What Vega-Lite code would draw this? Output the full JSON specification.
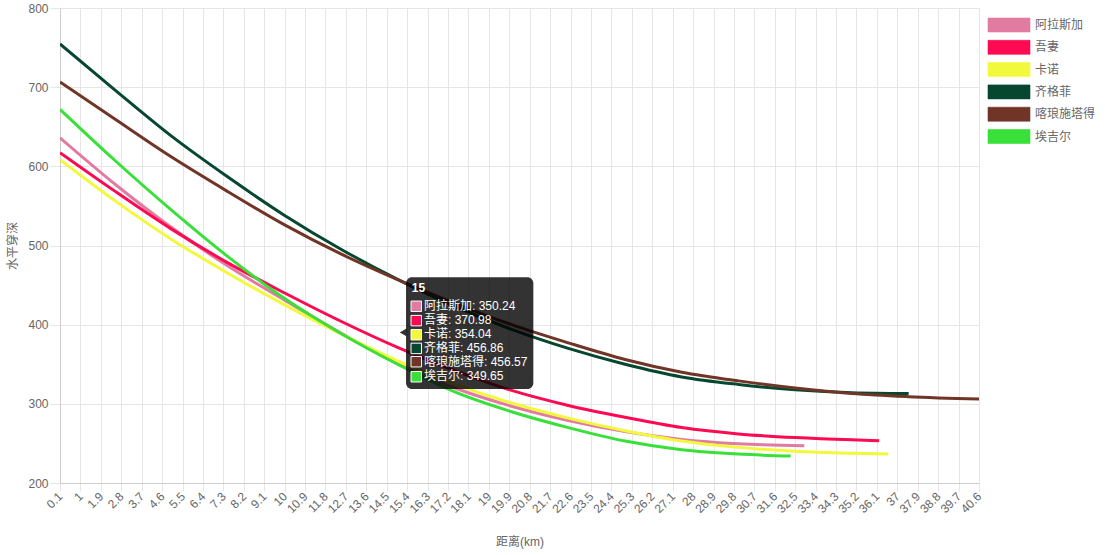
{
  "$schema": "https://vega.github.io/schema/vega-lite/v6.json",
  "width": 919,
  "height": 475,
  "autosize": {"type": "none"},
  "padding": {"left": 60, "top": 8, "right": 126, "bottom": 72},
  "background": "#ffffff",
  "config": {
    "font": "Liberation Sans, Noto Sans CJK SC, sans-serif",
    "view": {"stroke": null}
  },
  "datasets": {
    "pen": [
      {"s": "阿拉斯加", "d": 0.1, "v": 636}, {"s": "阿拉斯加", "d": 2.5, "v": 578}, {"s": "阿拉斯加", "d": 5, "v": 523}, {"s": "阿拉斯加", "d": 7.5, "v": 474}, {"s": "阿拉斯加", "d": 10, "v": 431}, {"s": "阿拉斯加", "d": 12.5, "v": 389}, {"s": "阿拉斯加", "d": 15, "v": 350.24}, {"s": "阿拉斯加", "d": 17.5, "v": 320}, {"s": "阿拉斯加", "d": 20, "v": 297}, {"s": "阿拉斯加", "d": 22.5, "v": 279}, {"s": "阿拉斯加", "d": 25, "v": 265}, {"s": "阿拉斯加", "d": 27.5, "v": 255}, {"s": "阿拉斯加", "d": 30, "v": 249.5}, {"s": "阿拉斯加", "d": 32.9, "v": 247},
      {"s": "吾妻", "d": 0.1, "v": 617.3}, {"s": "吾妻", "d": 2.5, "v": 569}, {"s": "吾妻", "d": 5, "v": 521}, {"s": "吾妻", "d": 7.5, "v": 478}, {"s": "吾妻", "d": 10, "v": 440}, {"s": "吾妻", "d": 12.5, "v": 404}, {"s": "吾妻", "d": 15, "v": 370.98}, {"s": "吾妻", "d": 17.5, "v": 342}, {"s": "吾妻", "d": 20, "v": 317}, {"s": "吾妻", "d": 22.5, "v": 298}, {"s": "吾妻", "d": 25, "v": 283}, {"s": "吾妻", "d": 27.5, "v": 270}, {"s": "吾妻", "d": 30, "v": 262}, {"s": "吾妻", "d": 32.5, "v": 257.4}, {"s": "吾妻", "d": 35, "v": 254.5}, {"s": "吾妻", "d": 36.2, "v": 253.5},
      {"s": "卡诺", "d": 0.1, "v": 608.5}, {"s": "卡诺", "d": 2.5, "v": 557}, {"s": "卡诺", "d": 5, "v": 508}, {"s": "卡诺", "d": 7.5, "v": 465}, {"s": "卡诺", "d": 10, "v": 425}, {"s": "卡诺", "d": 12.5, "v": 388}, {"s": "卡诺", "d": 15, "v": 354.04}, {"s": "卡诺", "d": 17.5, "v": 325}, {"s": "卡诺", "d": 20, "v": 301}, {"s": "卡诺", "d": 22.5, "v": 282}, {"s": "卡诺", "d": 25, "v": 266}, {"s": "卡诺", "d": 27.5, "v": 253}, {"s": "卡诺", "d": 30, "v": 245}, {"s": "卡诺", "d": 32.5, "v": 240}, {"s": "卡诺", "d": 35, "v": 237.5}, {"s": "卡诺", "d": 36.6, "v": 236.5},
      {"s": "齐格菲", "d": 0.1, "v": 754.5}, {"s": "齐格菲", "d": 2.5, "v": 697}, {"s": "齐格菲", "d": 5, "v": 638.5}, {"s": "齐格菲", "d": 7.5, "v": 586.5}, {"s": "齐格菲", "d": 10, "v": 538}, {"s": "齐格菲", "d": 12.5, "v": 495}, {"s": "齐格菲", "d": 15, "v": 456.86}, {"s": "齐格菲", "d": 17.5, "v": 423}, {"s": "齐格菲", "d": 20, "v": 394}, {"s": "齐格菲", "d": 22.5, "v": 370}, {"s": "齐格菲", "d": 25, "v": 350}, {"s": "齐格菲", "d": 27.5, "v": 334}, {"s": "齐格菲", "d": 30, "v": 324.5}, {"s": "齐格菲", "d": 32.5, "v": 317.7}, {"s": "齐格菲", "d": 35, "v": 314}, {"s": "齐格菲", "d": 37.5, "v": 313},
      {"s": "喀琅施塔得", "d": 0.1, "v": 706.5}, {"s": "喀琅施塔得", "d": 2.5, "v": 660}, {"s": "喀琅施塔得", "d": 5, "v": 612}, {"s": "喀琅施塔得", "d": 7.5, "v": 568}, {"s": "喀琅施塔得", "d": 10, "v": 526}, {"s": "喀琅施塔得", "d": 12.5, "v": 489}, {"s": "喀琅施塔得", "d": 15, "v": 456.57}, {"s": "喀琅施塔得", "d": 17.5, "v": 427}, {"s": "喀琅施塔得", "d": 20, "v": 400}, {"s": "喀琅施塔得", "d": 22.5, "v": 377}, {"s": "喀琅施塔得", "d": 25, "v": 356}, {"s": "喀琅施塔得", "d": 27.5, "v": 340}, {"s": "喀琅施塔得", "d": 30, "v": 329}, {"s": "喀琅施塔得", "d": 32.5, "v": 320}, {"s": "喀琅施塔得", "d": 35, "v": 313}, {"s": "喀琅施塔得", "d": 37.5, "v": 309}, {"s": "喀琅施塔得", "d": 40.6, "v": 306},
      {"s": "埃吉尔", "d": 0.1, "v": 672}, {"s": "埃吉尔", "d": 2.5, "v": 608}, {"s": "埃吉尔", "d": 5, "v": 545}, {"s": "埃吉尔", "d": 7.5, "v": 486}, {"s": "埃吉尔", "d": 10, "v": 433}, {"s": "埃吉尔", "d": 12.5, "v": 388.5}, {"s": "埃吉尔", "d": 15, "v": 349.65}, {"s": "埃吉尔", "d": 17.5, "v": 315}, {"s": "埃吉尔", "d": 20, "v": 290}, {"s": "埃吉尔", "d": 22.5, "v": 270}, {"s": "埃吉尔", "d": 25, "v": 253}, {"s": "埃吉尔", "d": 27.5, "v": 242}, {"s": "埃吉尔", "d": 30, "v": 236.5}, {"s": "埃吉尔", "d": 32.3, "v": 234}
    ]
  },
  "layer": [
    {
      "data": {"name": "pen"},
      "mark": {"type": "line", "strokeWidth": 3, "interpolate": "monotone", "clip": true},
      "encoding": {
        "x": {
          "field": "d", "type": "quantitative",
          "scale": {"domain": [0.1, 40.6], "nice": false, "zero": false},
          "axis": {
            "values": [0.1, 1, 1.9, 2.8, 3.7, 4.6, 5.5, 6.4, 7.3, 8.2, 9.1, 10, 10.9, 11.8, 12.7, 13.6, 14.5, 15.4, 16.3, 17.2, 18.1, 19, 19.9, 20.8, 21.7, 22.6, 23.5, 24.4, 25.3, 26.2, 27.1, 28, 28.9, 29.8, 30.7, 31.6, 32.5, 33.4, 34.3, 35.2, 36.1, 37, 37.9, 38.8, 39.7, 40.6],
            "tickCount": 200,
            "labelExpr": "'' + datum.value",
            "labelAngle": -45, "labelAlign": "right", "labelBaseline": "middle",
            "labelOverlap": false, "labelFlush": false,
            "labelFontSize": 12, "labelColor": "#666666", "labelPadding": 3,
            "tickSize": 8, "tickColor": "#e6e6e6", "gridColor": "#e6e6e6",
            "domainColor": "#cccccc",
            "title": "距离(km)", "titleColor": "#666666", "titleFontSize": 12, "titleFontWeight": "normal",
            "titleY": 58, "titleBaseline": "middle"
          }
        },
        "y": {
          "field": "v", "type": "quantitative",
          "scale": {"domain": [200, 800], "nice": false, "zero": false},
          "axis": {
            "values": [200, 300, 400, 500, 600, 700, 800],
            "tickCount": 20,
            "labelFontSize": 12, "labelColor": "#666666", "labelPadding": 2,
            "tickSize": 10, "tickColor": "#e6e6e6", "gridColor": "#e6e6e6",
            "domainColor": "#cccccc",
            "title": "水平穿深", "titleColor": "#666666", "titleFontSize": 12, "titleFontWeight": "normal",
            "titleX": -48, "titleY": 237.5, "titleAngle": 270, "titleAlign": "center", "titleBaseline": "middle"
          }
        },
        "color": {
          "field": "s", "type": "nominal",
          "scale": {
            "domain": ["阿拉斯加", "吾妻", "卡诺", "齐格菲", "喀琅施塔得", "埃吉尔"],
            "range": ["#e27ba1", "#fc0a52", "#f2f83c", "#05472f", "#713528", "#3ae03a"]
          },
          "legend": {
            "title": null, "orient": "none", "legendX": 941.5, "legendY": 9.5,
            "symbolType": "M-3,-1H3V1H-3Z", "symbolSize": 196, "symbolStrokeWidth": 1,
            "labelFontSize": 12, "labelColor": "#666666", "labelOffset": 18.5,
            "rowPadding": 3.3,
            "encode": {
              "symbols": {
                "update": {
                  "fill": {"scale": "color", "field": "value"},
                  "fillOpacity": {"value": 1},
                  "stroke": {"scale": "color", "field": "value"},
                  "strokeOpacity": {"value": 0.6}
                }
              }
            }
          }
        }
      }
    },
    {
      "data": {"values": [{}]},
      "mark": {"type": "rect", "fill": "#000000", "opacity": 0.8, "cornerRadius": 6},
      "encoding": {
        "x": {"datum": 15.35}, "x2": {"datum": 20.96},
        "y": {"datum": 459.9}, "y2": {"datum": 318.6}
      }
    },
    {
      "data": {"values": [{}]},
      "mark": {"type": "point", "shape": "triangle-left", "filled": true, "fill": "#000000", "opacity": 0.8, "size": 60, "strokeWidth": 0},
      "encoding": {"x": {"datum": 15.22}, "y": {"datum": 390.2}}
    },
    {
      "data": {"values": [{}]},
      "mark": {"type": "text", "text": "15", "fontWeight": "bold", "fontSize": 12, "color": "#ffffff", "align": "left", "baseline": "middle"},
      "encoding": {"x": {"datum": 15.6}, "y": {"datum": 445.9}}
    },
    {
      "data": {"values": [{}]},
      "mark": {"type": "text", "text": ["阿拉斯加: 350.24", "吾妻: 370.98", "卡诺: 354.04", "齐格菲: 456.86", "喀琅施塔得: 456.57", "埃吉尔: 349.65"], "fontSize": 12, "lineHeight": 14, "color": "#ffffff", "align": "left", "baseline": "middle"},
      "encoding": {"x": {"datum": 16.14}, "y": {"datum": 423.2}}
    },
    {
      "data": {"values": [{}]},
      "mark": {"type": "point", "shape": "square", "filled": true, "fill": "#e27ba1", "stroke": "#ffffff", "strokeWidth": 1, "size": 110, "opacity": 1},
      "encoding": {"x": {"datum": 15.8}, "y": {"datum": 423.2}}
    },
    {
      "data": {"values": [{}]},
      "mark": {"type": "point", "shape": "square", "filled": true, "fill": "#fc0a52", "stroke": "#ffffff", "strokeWidth": 1, "size": 110, "opacity": 1},
      "encoding": {"x": {"datum": 15.8}, "y": {"datum": 405.1}}
    },
    {
      "data": {"values": [{}]},
      "mark": {"type": "point", "shape": "square", "filled": true, "fill": "#f2f83c", "stroke": "#ffffff", "strokeWidth": 1, "size": 110, "opacity": 1},
      "encoding": {"x": {"datum": 15.8}, "y": {"datum": 387.3}}
    },
    {
      "data": {"values": [{}]},
      "mark": {"type": "point", "shape": "square", "filled": true, "fill": "#05472f", "stroke": "#ffffff", "strokeWidth": 1, "size": 110, "opacity": 1},
      "encoding": {"x": {"datum": 15.8}, "y": {"datum": 370.0}}
    },
    {
      "data": {"values": [{}]},
      "mark": {"type": "point", "shape": "square", "filled": true, "fill": "#713528", "stroke": "#ffffff", "strokeWidth": 1, "size": 110, "opacity": 1},
      "encoding": {"x": {"datum": 15.8}, "y": {"datum": 353.2}}
    },
    {
      "data": {"values": [{}]},
      "mark": {"type": "point", "shape": "square", "filled": true, "fill": "#3ae03a", "stroke": "#ffffff", "strokeWidth": 1, "size": 110, "opacity": 1},
      "encoding": {"x": {"datum": 15.8}, "y": {"datum": 334.2}}
    }
  ]
}
